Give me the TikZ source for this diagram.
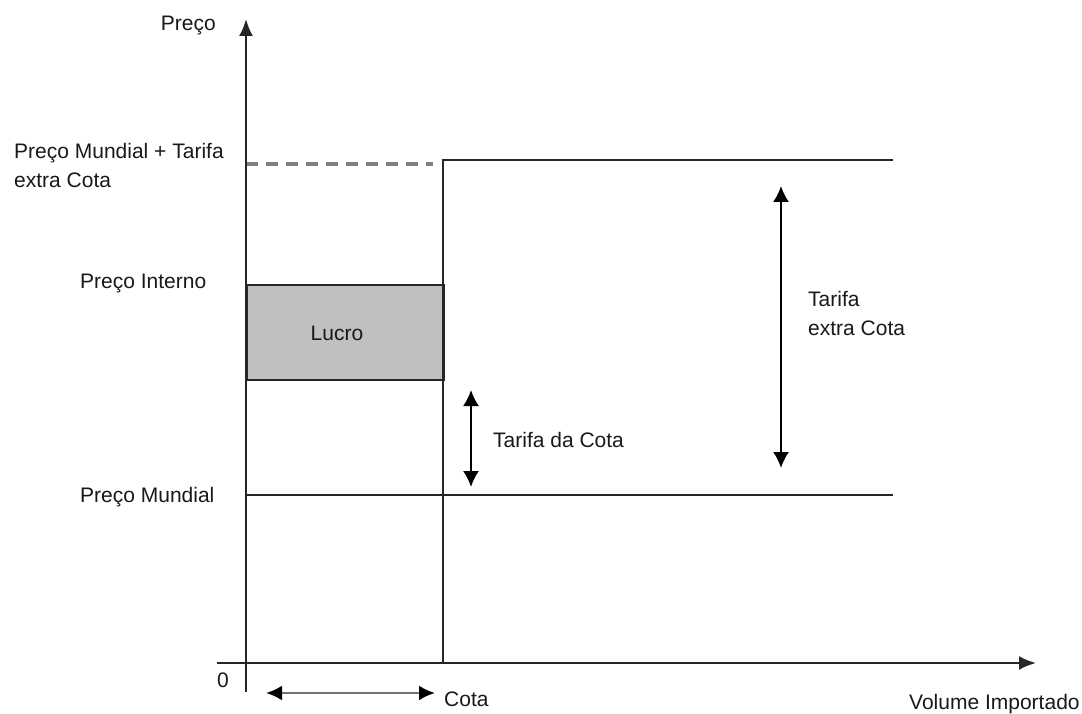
\documentclass[tikz,border=0pt]{standalone}
\usepackage{fontspec}
\setmainfont{Liberation Sans}
\usetikzlibrary{arrows.meta}
\begin{document}
\begin{tikzpicture}[x=1pt,y=-1pt,
  lbl/.style={inner sep=0pt,font=\fontsize{21}{29}\selectfont,text=black!90},
  axis/.style={line width=2.2pt,draw=black!85},
  curve/.style={line width=2pt,draw=black!85},
  dbl/.style={line width=2pt,draw=black,{Latex[length=16pt,width=16pt]}-{Latex[length=16pt,width=16pt]}},
  ax/.style={-{Latex[length=17pt,width=14pt]}}]
\useasboundingbox[fill=white] (0,0) rectangle (1082,714);
% coordinates
\coordinate (ybot) at (246,692);
\coordinate (ytop) at (246,19);
\coordinate (xl) at (217,663);
\coordinate (xr) at (1036,663);
\coordinate (dashL) at (246,164);
\coordinate (dashR) at (433,164);
\coordinate (qtop) at (443,160);
\coordinate (qbot) at (443,663);
\coordinate (topR) at (893,160);
\coordinate (pmL) at (246,495);
\coordinate (pmR) at (893,495);
\coordinate (tcT) at (471,390);
\coordinate (tcB) at (471,487);
\coordinate (teT) at (781,186);
\coordinate (teB) at (781,468);
\coordinate (cL) at (266,693);
\coordinate (cR) at (435,693);
% Lucro
\node[draw=black!85,line width=2pt,fill={rgb,255:red,192;green,192;blue,192},minimum width=197pt,minimum height=95pt,inner sep=0pt,anchor=north west] (lucro) at (246,284) {};
\node[lbl] (lucrot) at (337,333) {Lucro};
% lines
\draw[line width=3.5pt,draw=black!50,dash pattern=on 12pt off 8pt] (dashL) -- (dashR);
\draw[curve] (qbot) -- (qtop) -- (topR);
\draw[curve] (pmL) -- (pmR);
% axes
\draw[axis,ax] (ybot) -- (ytop);
\draw[axis,ax] (xl) -- (xr);
% arrows
\draw[dbl] (tcT) -- (tcB);
\draw[dbl] (teT) -- (teB);
\draw[line width=2.5pt,draw=black!55,{Latex[length=16pt,width=15pt,fill=black,color=black]}-{Latex[length=16pt,width=15pt,fill=black,color=black]}] (cL) -- (cR);
% labels
\node[lbl,anchor=east] (preco) at (216,26) {Preço};
\node[lbl,anchor=west,align=left] (pmt) at (14,165) {Preço Mundial + Tarifa\\extra Cota};
\node[lbl,anchor=west] (pint) at (80,284) {Preço Interno};
\node[lbl,anchor=west] (pmun) at (80,497) {Preço Mundial};
\node[lbl,anchor=west] (tcota) at (493,440) {Tarifa da Cota};
\node[lbl,anchor=west,align=left] (textra) at (808,313) {Tarifa\\extra Cota};
\node[lbl] (zero) at (223,680) {0};
\node[lbl,anchor=west] (cota) at (444,699) {Cota};
\node[lbl,anchor=west] (vol) at (909,704) {Volume Importado};
\end{tikzpicture}
\end{document}
